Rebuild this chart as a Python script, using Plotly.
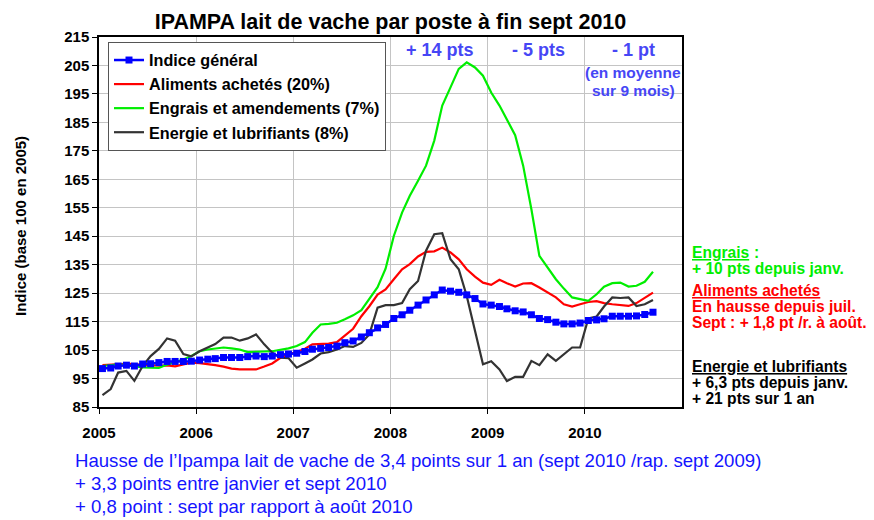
import pandas as pd
import plotly.graph_objects as go

# ---------------- data ----------------
start_month = "2005-01-01"
n_months = 69  # Jan 2005 .. Sep 2010

indice_general = [
    98.5, 98.7, 99.4, 99.7, 99.4, 100.1, 100.2, 100.6, 101.0, 101.0, 101.0, 101.1,
    101.5, 101.8, 102.0, 102.4, 102.4, 102.4, 102.7, 102.9, 102.7, 102.9, 103.4, 103.6,
    103.9, 104.5, 105.3, 105.6, 105.9, 106.4, 107.6, 108.2, 109.6, 111.1, 112.8, 114.0,
    116.1, 117.4, 119.0, 120.8, 122.6, 124.4, 126.1, 125.7, 125.3, 124.4, 123.1, 121.2,
    120.8, 120.3, 119.5, 118.8, 118.4, 117.4, 116.1, 115.7, 114.8, 114.2, 114.2, 114.5,
    115.4, 115.6, 116.0, 116.9, 116.9, 116.9, 117.0, 117.5, 118.3,
]
aliments = [
    99.7, 99.9, 100.2, 100.2, 100.1, 99.7, 99.7, 99.5, 99.6, 99.3, 100.0, 100.6,
    100.4, 100.1, 99.7, 99.2, 98.5, 98.2, 98.2, 98.2, 99.2, 100.3, 102.3, 103.5,
    104.3, 105.5, 107.0, 107.2, 107.3, 107.8, 110.1, 112.5, 116.9, 120.4, 124.5, 126.3,
    129.9, 133.4, 135.2, 137.9, 139.5, 139.7, 141.0, 139.3, 136.9, 133.4, 130.8, 128.7,
    127.9, 129.7, 128.5, 127.3, 128.4, 128.5, 127.0, 125.2, 123.5, 121.1, 120.3, 121.1,
    121.9, 122.2, 121.5, 121.1, 120.8, 120.5, 121.5, 123.5, 125.2,
]
engrais = [
    99.4, 99.6, 100.0, 99.7, 99.2, 98.9, 98.8, 98.7, 99.9, 100.8, 101.7, 102.9,
    104.6, 105.2, 105.6, 105.9, 105.6, 105.2, 104.3, 104.5, 104.5, 104.6, 105.0, 105.6,
    106.4, 107.8, 111.1, 114.0, 114.2, 114.6, 115.8, 117.2, 119.0, 122.8, 127.1, 133.6,
    145.1, 153.3, 159.2, 164.5, 169.8, 178.6, 190.9, 197.3, 203.8, 206.1, 204.3, 201.4,
    195.5, 190.9, 186.2, 180.5, 169.8, 154.5, 138.1, 134.0, 129.9, 126.6, 123.5, 122.9,
    122.3, 124.6, 127.3, 128.5, 128.7, 127.3, 127.6, 129.0, 132.5,
]
energie = [
    89.2, 91.3, 97.1, 97.7, 94.2, 99.4, 102.9, 105.4, 109.1, 108.3, 103.6, 102.8,
    104.6, 106.0, 107.1, 109.4, 109.4, 108.3, 109.1, 110.5, 107.0, 104.1, 102.3, 102.2,
    98.8, 100.3, 101.7, 103.8, 104.3, 105.2, 106.4, 106.1, 107.5, 110.5, 119.9, 120.8,
    120.8, 121.5, 126.4, 129.3, 139.9, 145.7, 146.1, 136.9, 133.4, 124.0, 112.3, 100.0,
    101.1, 98.2, 94.1, 95.6, 95.6, 101.2, 99.7, 103.5, 101.2, 103.5, 105.9, 105.9,
    116.1, 116.8, 120.3, 123.5, 123.3, 123.5, 120.5, 121.1, 122.6,
]

series_names = [
    "Indice général",
    "Aliments achetés (20%)",
    "Engrais et amendements (7%)",
    "Energie et lubrifiants (8%)",
]
year_labels = ["2005", "2006", "2007", "2008", "2009", "2010"]
y_ticks = [85, 95, 105, 115, 125, 135, 145, 155, 165, 175, 185, 195, 205, 215]

title_text = "IPAMPA lait de vache par poste à fin sept 2010"
y_title = "Indice (base 100 en 2005)"
period_notes = ["+ 14 pts", "- 5 pts", "- 1 pt"]
period_sub = ["(en moyenne", "sur 9 mois)"]
bottom_lines = [
    "Hausse de l’Ipampa lait de vache de 3,4 points sur 1 an (sept 2010 /rap. sept 2009)",
    "+ 3,3 points entre janvier et sept 2010",
    "+ 0,8 point : sept par rapport à août 2010",
]

# ---------------- figure ----------------
dates = pd.date_range(start_month, periods=n_months, freq="MS") + pd.Timedelta(days=13)
year_ticks = [f"{y}-01-01" for y in year_labels]

OFF = 8  # page body margin
W, H = 874 - OFF, 520 - OFF
# plot area in page pixels
L, R, T, B = 99, 682, 37, 407

FONT = "Liberation Sans, Arial, sans-serif"
BLUE = "#0000ff"
RED = "#ff0000"
GREEN = "#00ee00"
DARK = "#333333"
NOTE_BLUE = "#4646f5"

fig = go.Figure()
fig.add_trace(go.Scatter(
    x=dates, y=aliments, name=series_names[1], mode="lines",
    line=dict(color=RED, width=2.2), legendrank=2,
))
fig.add_trace(go.Scatter(
    x=dates, y=engrais, name=series_names[2], mode="lines",
    line=dict(color=GREEN, width=2.2), legendrank=3,
))
fig.add_trace(go.Scatter(
    x=dates, y=energie, name=series_names[3], mode="lines",
    line=dict(color=DARK, width=2.2), legendrank=4,
))
fig.add_trace(go.Scatter(
    x=dates, y=indice_general, name=series_names[0], mode="lines+markers",
    line=dict(color=BLUE, width=2.5), marker=dict(symbol="square", size=7, color=BLUE),
    legendrank=1,
))


def px(xp):
    return (xp - L) / (R - L)


def py(yp):
    return (B - yp) / (B - T)


ann = []


def add_text(text, x, y, size, color, bold=True, xanchor="left", underline=False, angle=0):
    f = dict(family=FONT, size=size, color=color, weight="bold" if bold else "normal")
    if underline:
        f["lineposition"] = "under"
    ann.append(dict(
        text=text, x=px(x), y=py(y), xref="paper", yref="paper",
        xanchor=xanchor, yanchor="middle", showarrow=False, font=f, textangle=angle,
    ))


# period notes
add_text(period_notes[0], 440, 50, 18, NOTE_BLUE, xanchor="center")
add_text(period_notes[1], 538, 50, 18, NOTE_BLUE, xanchor="center")
add_text(period_notes[2], 633, 50, 18, NOTE_BLUE, xanchor="center")
add_text(period_sub[0], 633, 72, 15.5, NOTE_BLUE, xanchor="center")
add_text(period_sub[1], 633, 90, 15.5, NOTE_BLUE, xanchor="center")

# right side notes
RX = 690
RS = 15.6
add_text("Engrais", RX, 252, RS, GREEN, underline=True)
add_text(":", 752, 252, RS, GREEN)
add_text("+ 10 pts depuis janv.", RX, 268, RS, GREEN)
add_text("Aliments achetés", RX, 290, RS, RED, underline=True)
add_text("En hausse depuis juil.", RX, 306, RS, RED)
add_text("Sept : + 1,8 pt /r. à août.", RX, 322, RS, RED)
add_text("Energie et lubrifiants", RX, 366, RS, "#000000", underline=True)
add_text("+ 6,3 pts depuis janv.", RX, 382, RS, "#000000")
add_text("+ 21 pts sur 1 an", RX, 398, RS, "#000000")

# bottom notes
add_text(bottom_lines[0], 73, 460, 18.6, "#1414ff", bold=False)
add_text(bottom_lines[1], 73, 483, 18.6, "#1414ff", bold=False)
add_text(bottom_lines[2], 73, 507, 18.6, "#1414ff", bold=False)

# y-axis title
add_text(y_title, 20, 226, 15, "#000000", xanchor="center", angle=-90)

fig.update_layout(
    width=W, height=H,
    margin=dict(l=L - OFF, r=874 - R, t=T - OFF, b=520 - B, pad=0),
    paper_bgcolor="white", plot_bgcolor="white",
    font=dict(family=FONT, color="#000000"),
    title=dict(
        text=title_text, x=((L + R) / 2 - OFF) / W, xanchor="center",
        y=1 - (21 - OFF) / H, yanchor="middle", yref="container",
        font=dict(family=FONT, size=21.5, color="#000000", weight="bold"),
    ),
    showlegend=True,
    legend=dict(
        x=px(108), y=py(42), xanchor="left", yanchor="top",
        bgcolor="white", bordercolor="#555555", borderwidth=1,
        font=dict(family=FONT, size=16.2, color="#000000", weight="bold"),
        traceorder="normal", itemwidth=30,
    ),
    annotations=ann,
)

fig.update_xaxes(
    type="date", range=["2005-01-01", "2011-01-01"],
    tickvals=year_ticks, ticktext=year_labels,
    showgrid=True, gridcolor="#c4c4c4", gridwidth=1,
    showline=True, linecolor="#000000", linewidth=1.5, mirror=True,
    ticks="outside", ticklen=5, tickcolor="#000000",
    ticklabelstandoff=6,
    tickfont=dict(family=FONT, size=15, color="#000000", weight="bold"),
    zeroline=False,
)
fig.update_yaxes(
    range=[85, 215], tickvals=y_ticks,
    showgrid=True, gridcolor="#c4c4c4", gridwidth=1,
    showline=True, linecolor="#000000", linewidth=1.5, mirror=True,
    ticks="outside", ticklen=5, tickcolor="#000000",
    tickfont=dict(family=FONT, size=15, color="#000000", weight="bold"),
    zeroline=False,
)

fig.write_html("out.html")
